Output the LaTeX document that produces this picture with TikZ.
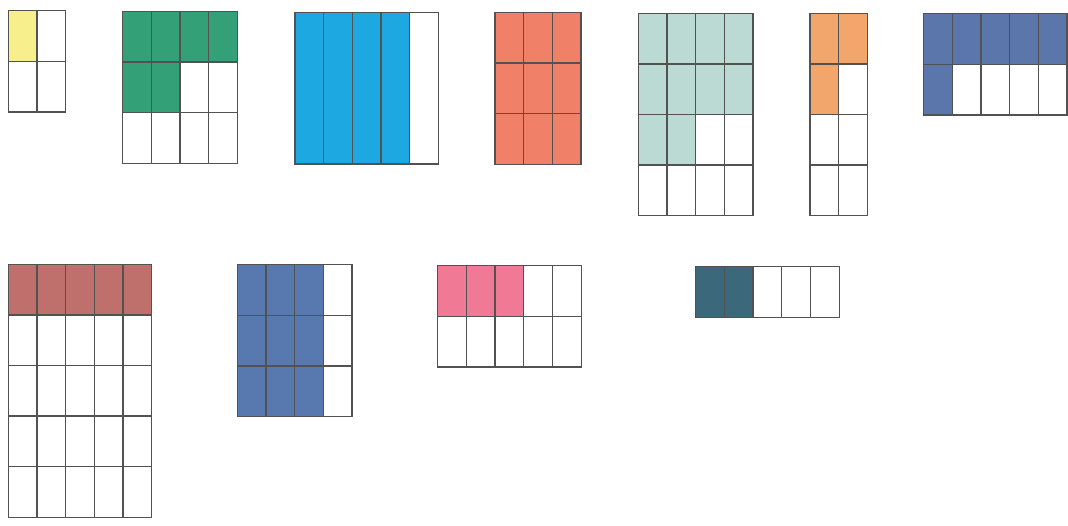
\documentclass[tikz,border=0pt]{standalone}
\usepackage{xcolor}

\definecolor{cellyellow}{RGB}{247,238,140}
\definecolor{cellgreen}{RGB}{52,160,120}
\definecolor{cellblue}{RGB}{30,168,226}
\definecolor{cellsalmon}{RGB}{240,128,104}
\definecolor{cellmint}{RGB}{188,218,212}
\definecolor{cellorange}{RGB}{242,166,108}
\definecolor{cellnavy}{RGB}{90,118,170}
\definecolor{cellbrick}{RGB}{192,112,108}
\definecolor{cellslate}{RGB}{88,120,176}
\definecolor{cellpink}{RGB}{240,122,150}
\definecolor{cellteal}{RGB}{60,104,124}

% cols, rows
\newcommand{\cellgrid}[2]{%
  \foreach \i in {1,...,#1} \draw[gridline] (\i,0) -- (\i,#2);
  \foreach \j in {1,...,#2} \draw[gridline] (0,\j) -- (#1,\j);
  \draw[gridline] (0,0) rectangle (#1,#2);
}

\begin{document}
\begin{tikzpicture}[x=28.7pt, y=-50.6pt]

    \tikzstyle{gridline} = [line width=1.3pt, draw=black!68, line join=miter]

    \useasboundingbox (0pt,0pt) rectangle (1068pt,-526pt);

    % top row
    \begin{scope}[shift={(8.3pt,-10.7pt)}]
        \fill[cellyellow] (0,0) rectangle (1,1);
        \cellgrid{2}{2}
    \end{scope}
    \begin{scope}[shift={(122.7pt,-11.5pt)}]
        \fill[cellgreen] (0,0) rectangle (4,1) (0,1) rectangle (2,2);
        \cellgrid{4}{3}
    \end{scope}
    \begin{scope}[shift={(295pt,-12.3pt)}, yscale=3]
        \fill[cellblue] (0,0) rectangle (4,1);
        \cellgrid{5}{1}
    \end{scope}
    \begin{scope}[shift={(495pt,-12.5pt)}]
        \fill[cellsalmon] (0,0) rectangle (3,3);
        \cellgrid{3}{3}
    \end{scope}
    \begin{scope}[shift={(638.3pt,-13.3pt)}]
        \fill[cellmint] (0,0) rectangle (4,2) (0,2) rectangle (2,3);
        \cellgrid{4}{4}
    \end{scope}
    \begin{scope}[shift={(810pt,-13.3pt)}]
        \fill[cellorange] (0,0) rectangle (2,1) (0,1) rectangle (1,2);
        \cellgrid{2}{4}
    \end{scope}
    \begin{scope}[shift={(923.5pt,-13.7pt)}]
        \fill[cellnavy] (0,0) rectangle (5,1) (0,1) rectangle (1,2);
        \cellgrid{5}{2}
    \end{scope}

    % bottom row
    \begin{scope}[shift={(8.3pt,-264.3pt)}]
        \fill[cellbrick] (0,0) rectangle (5,1);
        \cellgrid{5}{5}
    \end{scope}
    \begin{scope}[shift={(237.3pt,-264.7pt)}]
        \fill[cellslate] (0,0) rectangle (3,3);
        \cellgrid{4}{3}
    \end{scope}
    \begin{scope}[shift={(437.7pt,-265.7pt)}]
        \fill[cellpink] (0,0) rectangle (3,1);
        \cellgrid{5}{2}
    \end{scope}
    \begin{scope}[shift={(695.7pt,-266.7pt)}]
        \fill[cellteal] (0,0) rectangle (2,1);
        \cellgrid{5}{1}
    \end{scope}

\end{tikzpicture}
\end{document}
